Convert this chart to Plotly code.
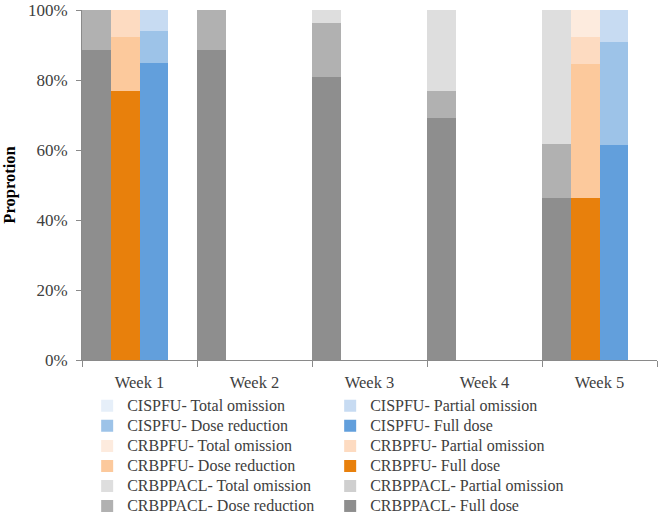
import plotly.graph_objects as go

# ---------------- data (percent of patients) ----------------
weeks = ["Week 1", "Week 2", "Week 3", "Week 4", "Week 5"]
regimens = ["CRBPPACL", "CRBPFU", "CISPFU"]
levels = ["Full dose", "Dose reduction", "Partial omission", "Total omission"]

crbppacl_full_dose = [88.5, 88.5, 80.8, 69.2, 46.2]
crbppacl_dose_reduction = [11.5, 11.5, 15.4, 7.7, 15.4]
crbppacl_partial_omission = [0, 0, 0, 0, 0]
crbppacl_total_omission = [0, 0, 3.8, 23.1, 38.4]

crbpfu_full_dose = [76.9, None, None, None, 46.2]
crbpfu_dose_reduction = [15.4, None, None, None, 38.4]
crbpfu_partial_omission = [7.7, None, None, None, 7.7]
crbpfu_total_omission = [0, None, None, None, 7.7]

cispfu_full_dose = [85.0, None, None, None, 61.5]
cispfu_dose_reduction = [9.0, None, None, None, 29.5]
cispfu_partial_omission = [6.0, None, None, None, 9.0]
cispfu_total_omission = [0, None, None, None, 0]

y_tick_values = [0, 20, 40, 60, 80, 100]
y_tick_labels = [f"{v}%" for v in y_tick_values]

# ---------------- styles ----------------
series = {
    "CRBPPACL": [crbppacl_full_dose, crbppacl_dose_reduction,
                 crbppacl_partial_omission, crbppacl_total_omission],
    "CRBPFU": [crbpfu_full_dose, crbpfu_dose_reduction,
               crbpfu_partial_omission, crbpfu_total_omission],
    "CISPFU": [cispfu_full_dose, cispfu_dose_reduction,
               cispfu_partial_omission, cispfu_total_omission],
}
colors = {
    "CRBPPACL": ["#8e8e8e", "#b1b1b1", "#cfcfcf", "#dedede"],
    "CRBPFU": ["#e8800c", "#fcc99c", "#fddbc1", "#fdebde"],
    "CISPFU": ["#629fdc", "#9dc3e8", "#c7dbf2", "#e6eff9"],
}
legend_order = ["CISPFU", "CRBPFU", "CRBPPACL"]
BAR_W = 0.25
FONT = "Liberation Serif"
AXIS_GRAY = "#8a8a8a"
TEXT = "#404040"
LEGEND_TEXT_PX = 16

fig = go.Figure()
for slot, reg in enumerate(regimens):
    xs = [i + (slot + 0.5) * BAR_W for i in range(len(weeks))]
    for li, lvl in enumerate(levels):
        rank = legend_order.index(reg) * 4 + (3 - li) + 1
        fig.add_bar(
            x=xs, y=series[reg][li], width=BAR_W,
            name=f'<span style="font-size:{LEGEND_TEXT_PX}px">{reg}- {lvl}</span>',
            marker=dict(color=colors[reg][li], line=dict(width=0)),
            legendrank=rank,
        )

fig.update_layout(
    width=661, height=520,
    barmode="stack",
    plot_bgcolor="white", paper_bgcolor="white",
    margin=dict(l=82, r=4, t=10, b=160, autoexpand=False),
    font=dict(family=FONT, color=TEXT, size=16),
    legend=dict(
        orientation="h", x=0.009, xanchor="left", y=-0.088, yanchor="top",
        entrywidth=198, entrywidthmode="pixels",
        traceorder="normal",
        font=dict(family=FONT, size=13.1, color=TEXT),
        itemclick=False, itemdoubleclick=False,
        tracegroupgap=0,
    ),
    showlegend=True,
)
fig.update_xaxes(
    range=[0, len(weeks)],
    tickmode="array",
    tickvals=[i + 0.5 for i in range(len(weeks))],
    ticktext=weeks,
    ticks="",
    ticklabelstandoff=7,
    tickfont=dict(family=FONT, size=16.5, color=TEXT),
    showline=True, linecolor=AXIS_GRAY, linewidth=1,
    showgrid=False, zeroline=False, automargin=False,
    minor=dict(tickmode="linear", tick0=0, dtick=1, ticks="outside",
               ticklen=6, tickcolor=AXIS_GRAY, showgrid=False),
)
fig.update_yaxes(
    range=[0, 100],
    tickmode="array", tickvals=y_tick_values, ticktext=y_tick_labels,
    ticks="outside", ticklen=5, tickcolor=AXIS_GRAY,
    ticklabelstandoff=5,
    tickfont=dict(family=FONT, size=17, color=TEXT),
    showline=True, linecolor=AXIS_GRAY, linewidth=1,
    showgrid=False, zeroline=False, automargin=False,
    title=dict(text="<b>Proprotion</b>", standoff=10,
               font=dict(family=FONT, size=16.5, color="black")),
)

fig.write_html("out.html", config={"displayModeBar": False},
               post_script="document.body.style.margin='0';")
